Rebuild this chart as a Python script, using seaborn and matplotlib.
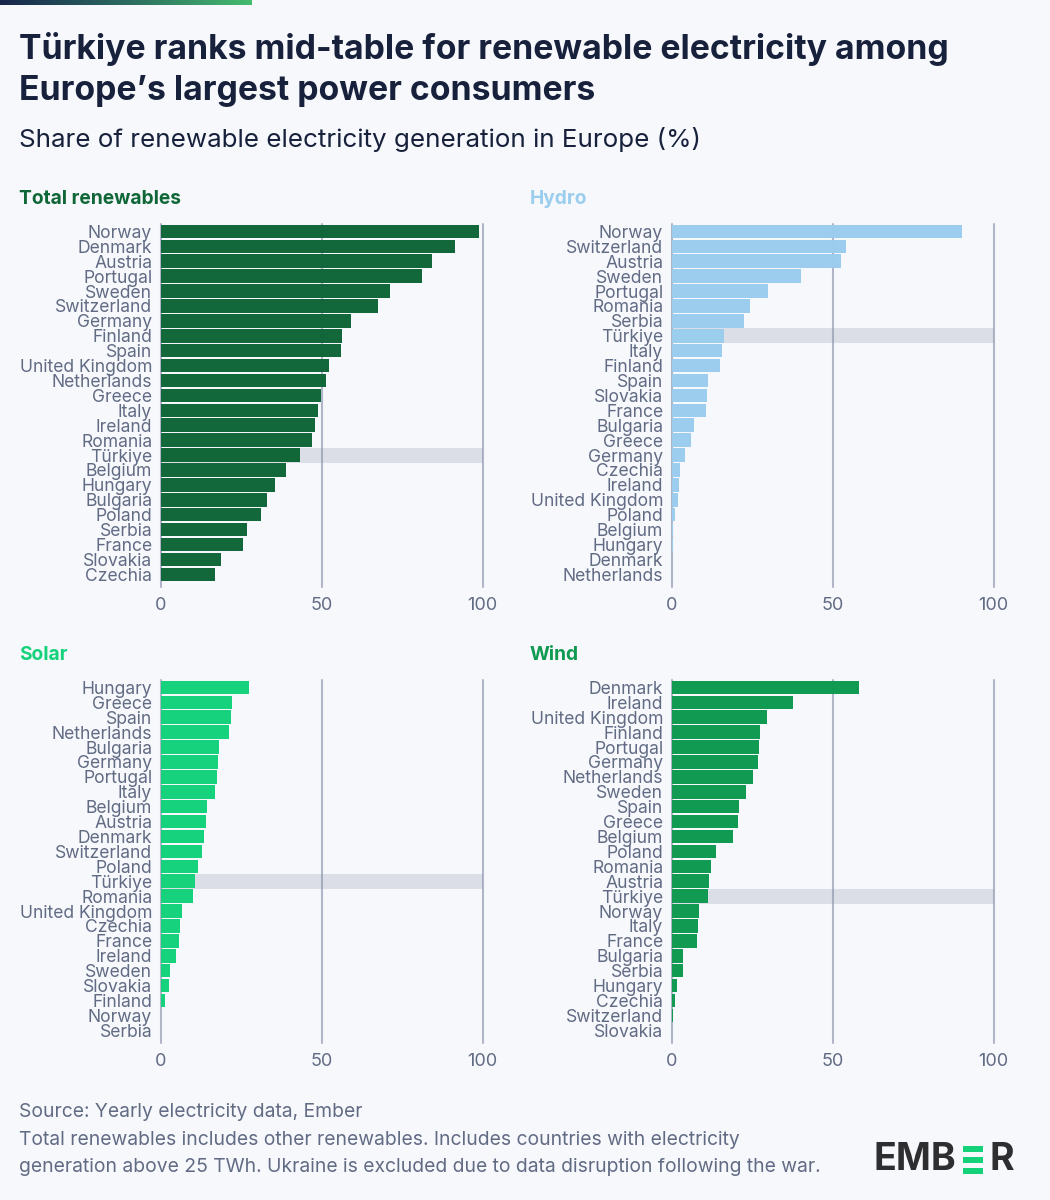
import matplotlib
matplotlib.use("Agg")
import matplotlib.pyplot as plt
from matplotlib.colors import LinearSegmentedColormap
import numpy as np
import seaborn as sns

total_countries = ["Norway", "Denmark", "Austria", "Portugal", "Sweden", "Switzerland", "Germany", "Finland",
                   "Spain", "United Kingdom", "Netherlands", "Greece", "Italy", "Ireland", "Romania", "Türkiye",
                   "Belgium", "Hungary", "Bulgaria", "Poland", "Serbia", "France", "Slovakia", "Czechia"]
total_values = [98.9, 91.4, 84.3, 81.2, 71.4, 67.4, 59.2, 56.4, 56.2, 52.2, 51.4, 49.8, 48.9, 48.0, 47.0, 43.3,
                39.0, 35.5, 33.0, 31.2, 27.0, 25.7, 18.7, 16.9]

hydro_countries = ["Norway", "Switzerland", "Austria", "Sweden", "Portugal", "Romania", "Serbia", "Türkiye",
                   "Italy", "Finland", "Spain", "Slovakia", "France", "Bulgaria", "Greece", "Germany", "Czechia",
                   "Ireland", "United Kingdom", "Poland", "Belgium", "Hungary", "Denmark", "Netherlands"]
hydro_values = [90.2, 54.2, 52.6, 40.2, 30.0, 24.4, 22.5, 16.3, 15.7, 15.0, 11.3, 11.0, 10.7, 6.9, 6.1, 4.2, 2.5,
                2.4, 2.1, 1.1, 0.6, 0.5, 0.1, 0.1]

solar_countries = ["Hungary", "Greece", "Spain", "Netherlands", "Bulgaria", "Germany", "Portugal", "Italy",
                   "Belgium", "Austria", "Denmark", "Switzerland", "Poland", "Türkiye", "Romania", "United Kingdom",
                   "Czechia", "France", "Ireland", "Sweden", "Slovakia", "Finland", "Norway", "Serbia"]
solar_values = [27.5, 22.2, 21.9, 21.3, 18.2, 18.0, 17.5, 17.0, 14.5, 14.2, 13.5, 13.0, 11.5, 10.8, 10.0, 6.8,
                6.0, 5.8, 4.9, 2.9, 2.5, 1.4, 0.3, 0.2]

wind_countries = ["Denmark", "Ireland", "United Kingdom", "Finland", "Portugal", "Germany", "Netherlands", "Sweden",
                  "Spain", "Greece", "Belgium", "Poland", "Romania", "Austria", "Türkiye", "Norway", "Italy",
                  "France", "Bulgaria", "Serbia", "Hungary", "Czechia", "Switzerland", "Slovakia"]
wind_values = [58.3, 37.8, 29.7, 27.5, 27.2, 27.0, 25.3, 23.0, 21.0, 20.6, 19.0, 13.8, 12.2, 11.7, 11.3, 8.6, 8.2,
               8.0, 3.7, 3.7, 1.6, 1.1, 0.4, 0.3]

x_ticks = [0, 50, 100]

bg = "#F6F8FC"
navy = "#17213B"
slate = "#626B84"
W, H = 1050, 1200

sns.set_theme(style="white")
plt.rcParams["font.family"] = ["Inter", "DejaVu Sans"]
plt.rcParams["axes.unicode_minus"] = False

fig = plt.figure(figsize=(W / 100, H / 100), dpi=100, facecolor=bg)


def px_text(x, y, s, **kw):
    # x, y in reference pixels, y measured from the top
    return fig.text(x / W, 1 - y / H, s, **kw)


def add_panel(left, top, title, countries, values, color):
    ax = fig.add_axes([left / W, 1 - (top + 363) / H, 322 / W, 363 / H], facecolor="none")
    highlight = [100 if c == "Türkiye" else 0 for c in countries]
    sns.barplot(x=highlight, y=countries, orient="h", color="#8E93A8", alpha=0.25, width=1.0,
                saturation=1, linewidth=0, ax=ax)
    sns.barplot(x=values, y=countries, orient="h", color=color, width=0.91, saturation=1,
                linewidth=0, ax=ax)
    ax.set_xlim(0, 100)
    ax.set_ylim(23.85, -0.5)
    ax.set_xticks(x_ticks)
    ax.set_xlabel("")
    ax.set_ylabel("")
    sns.despine(ax=ax, left=True, bottom=True)
    ax.set_axisbelow(False)
    ax.xaxis.grid(True, color="#A9AFC2", linewidth=1.5, alpha=0.9, zorder=5)
    for line in ax.get_xgridlines():
        line.set_clip_on(False)
    # bars sit over the gridlines, which only show faintly through them
    for patch in ax.patches:
        patch.set_zorder(6 if patch.get_width() < 100 else 4)
        if patch.get_width() < 100:
            patch.set_alpha(0.99)
    ax.tick_params(axis="y", length=0, pad=6, labelsize=12.6, labelcolor=slate)
    ax.tick_params(axis="x", length=0, pad=7, labelsize=13, labelcolor=slate)
    px_text(left - 141.5, top - 26 + 1, title, fontsize=13.8, fontweight="bold", color=color, va="center")
    return ax


# top gradient strip
strip = fig.add_axes([0, 1 - 5 / H, 252 / W, 5 / H])
strip_cmap = LinearSegmentedColormap.from_list("strip", ["#17264C", "#2C6B60", "#45BC6E"])
strip.imshow(np.linspace(0, 1, 256).reshape(1, -1), aspect="auto", cmap=strip_cmap)
strip.axis("off")

px_text(19, 49, "Türkiye ranks mid-table for renewable electricity among", fontsize=24.3, fontweight="bold",
        color=navy, va="center")
px_text(19, 91, "Europe’s largest power consumers", fontsize=24.3, fontweight="bold", color=navy, va="center")
px_text(19, 140, "Share of renewable electricity generation in Europe (%)", fontsize=18.7, color=navy, va="center")

add_panel(160.5, 224, "Total renewables", total_countries, total_values, "#0F6637")
add_panel(671.5, 224, "Hydro", hydro_countries, hydro_values, "#9BCDEE")
add_panel(160.5, 680, "Solar", solar_countries, solar_values, "#14D27A")
add_panel(671.5, 680, "Wind", wind_countries, wind_values, "#0E9A50")

px_text(19, 1112, "Source: Yearly electricity data, Ember", fontsize=13.9, color=slate, va="center")
px_text(19, 1140, "Total renewables includes other renewables. Includes countries with electricity", fontsize=13.9,
        color=slate, va="center")
px_text(19, 1167, "generation above 25 TWh. Ukraine is excluded due to data disruption following the war.", fontsize=13.9,
        color=slate, va="center")

# EMBER logo, the second E is three green strokes
px_text(874, 1160, "EMB", fontsize=27, fontweight="bold", color="#2E2E30", va="center")
px_text(989, 1160, "R", fontsize=27, fontweight="bold", color="#2E2E30", va="center")
for y in [1146, 1157, 1168]:
    fig.patches.append(plt.Rectangle((963 / W, 1 - (y + 6) / H), 20 / W, 6 / H, transform=fig.transFigure,
                                     facecolor="#14D27A", edgecolor="none"))

fig.savefig("out.png", dpi=100, facecolor=bg)
